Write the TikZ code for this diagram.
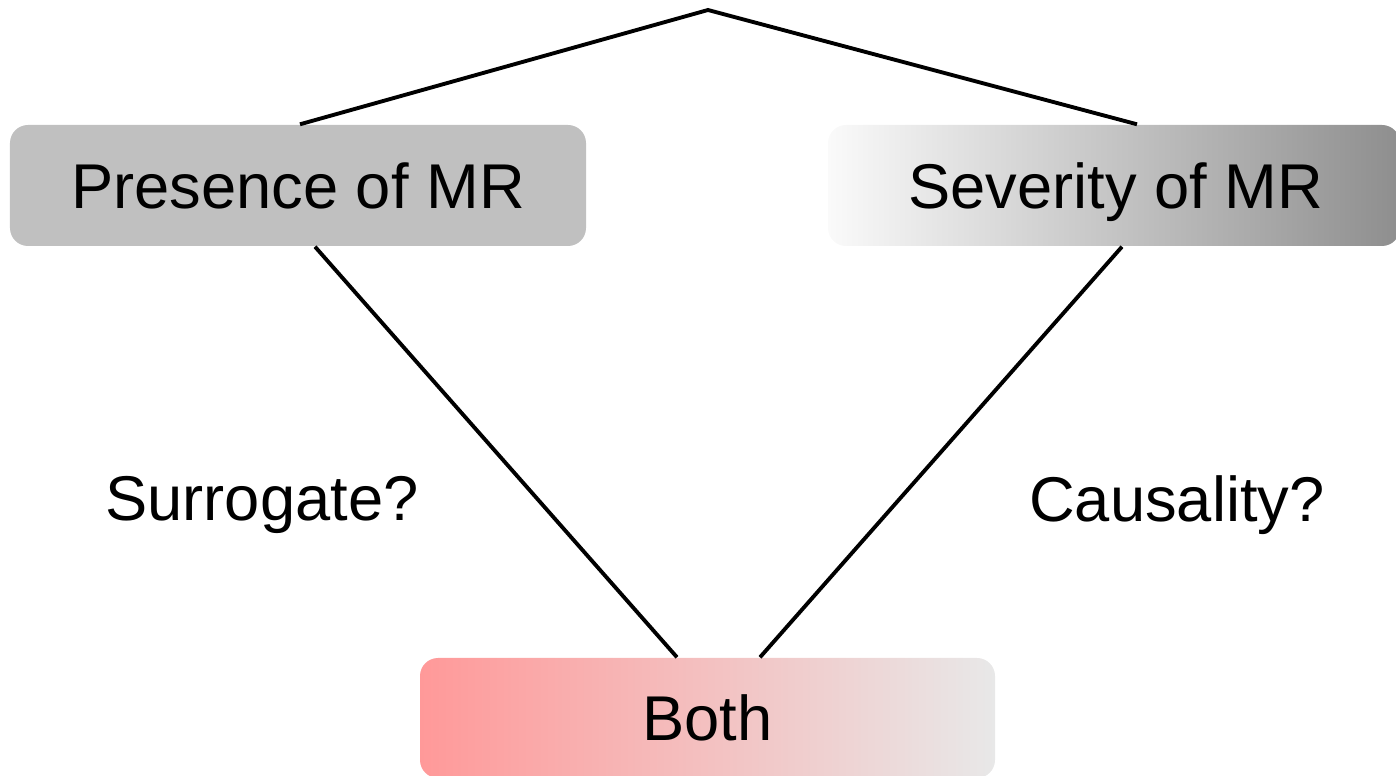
\documentclass[tikz,border=0pt]{standalone}
\usepackage{fontspec}
\setmainfont{Liberation Sans}
\usetikzlibrary{calc}

\definecolor{boxgray}{HTML}{C0C0C0}
\definecolor{darkgray}{HTML}{8E8E8E}
\definecolor{lightgray}{HTML}{FAFAFA}
\definecolor{salmon}{HTML}{FF9999}
\definecolor{palegray}{HTML}{E8E8E8}

\begin{document}
\begin{tikzpicture}[
            roundbox/.style={rectangle, rounded corners=0.18cm, inner sep=0pt, minimum height=1.21cm, text height=0.46cm, text depth=0pt, font=\fontsize{18}{22}\selectfont},
            plainlabel/.style={inner sep=0pt, font=\fontsize{18}{22}\selectfont},
            link/.style={line width=1.1pt, black},
        ]
            \useasboundingbox (0,0) rectangle (13.96,7.76);
            % Nodes
            \coordinate (apex) at (7.08,7.66);
            \node[roundbox, fill=boxgray, minimum width=5.76cm] (presence) at (2.98,5.905) {Presence of MR};
            \node[roundbox, left color=lightgray, right color=darkgray, minimum width=5.72cm] (severity) at (11.14,5.905) {\hspace*{0.04cm}Severity of MR};
            \node[roundbox, left color=salmon, right color=palegray, minimum width=5.75cm, minimum height=1.20cm] (both) at (7.075,0.58) {Both};
            \node[plainlabel] (surrogate) at (2.62,2.71) {Surrogate?};
            \node[plainlabel] (causality) at (11.77,2.71) {Causality?};
%
%            % Lines
            \draw[link] ($(presence.north)+(0.02,0)$) -- (apex) -- ($(severity.north)+(0.23,0)$);
            \draw[link] ($(presence.south)+(0.17,0)$) -- ($(both.north)+(-0.305,0)$);
            \draw[link] ($(severity.south)+(0.08,0)$) -- ($(both.north)+(0.525,0)$);
        \end{tikzpicture}
\end{document}
